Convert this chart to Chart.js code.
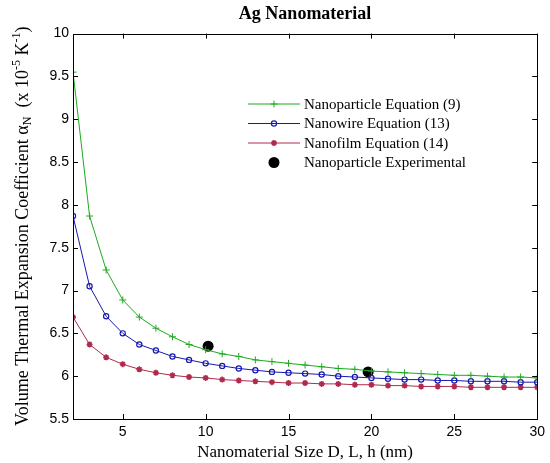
<!DOCTYPE html>
<html>
<head>
<meta charset="utf-8">
<script src="https://cdn.jsdelivr.net/npm/chart.js@4.4.1/dist/chart.umd.min.js"></script>
<style>
  html, body { margin: 0; padding: 0; background: #fff; }
  #wrap { width: 550px; height: 463px; }
</style>
</head>
<body>
<div id="wrap"><canvas id="agChart"></canvas></div>
<script>
// sizes D, L, h (nm)
var sizes = [2, 3, 4, 5, 6, 7, 8, 9, 10, 11, 12, 13, 14, 15, 16,
    17, 18, 19, 20, 21, 22, 23, 24, 25, 26, 27, 28, 29, 30];

var particleEq = [9.55, 7.87, 7.24, 6.89, 6.69, 6.56, 6.46, 6.37, 6.31, 6.26,
    6.23, 6.19, 6.17, 6.15, 6.13, 6.11, 6.09, 6.08, 6.06, 6.05,
    6.04, 6.03, 6.02, 6.01, 6.01, 6.00, 5.99, 5.99, 5.98];
var wireEq = [7.87, 7.05, 6.70, 6.50, 6.37, 6.30, 6.23, 6.19, 6.15, 6.12,
    6.09, 6.07, 6.05, 6.04, 6.03, 6.02, 6.00, 5.99, 5.98, 5.97,
    5.96, 5.96, 5.95, 5.95, 5.94, 5.94, 5.94, 5.93, 5.93];
var filmEq = [6.69, 6.37, 6.22, 6.14, 6.08, 6.04, 6.01, 5.99, 5.98, 5.96,
    5.95, 5.94, 5.93, 5.92, 5.92, 5.91, 5.91, 5.90, 5.90, 5.89,
    5.89, 5.88, 5.88, 5.88, 5.87, 5.87, 5.87, 5.87, 5.87];

var expSizes = [10.15, 19.8];
var expValues = [6.35, 6.05];

var xTicks = [5, 10, 15, 20, 25, 30];
var yTicks = [5.5, 6, 6.5, 7, 7.5, 8, 8.5, 9, 9.5, 10];

var seriesNames = ['Nanoparticle Equation (9)', 'Nanowire Equation (13)',
    'Nanofilm Equation (14)', 'Nanoparticle Experimental'];

function pairs(xs, ys) {
    return xs.map(function (x, i) { return { x: x, y: ys[i] }; });
}

var serif = "'Liberation Serif', 'Times New Roman', serif";
var sans = "'Liberation Sans', Arial, sans-serif";

// inward ticks + box round the axes, like matlab
var boxTicks = {
    id: 'boxTicks',
    afterDraw: function (c) {
        var a = c.chartArea, ctx = c.ctx, t = 5;
        var xs = c.scales.x, ys = c.scales.y;
        ctx.save();
        ctx.strokeStyle = '#000';
        ctx.lineWidth = 1;
        ctx.strokeRect(Math.round(a.left) + 0.5, Math.round(a.top) + 0.5,
            Math.round(a.right - a.left), Math.round(a.bottom - a.top));
        ctx.beginPath();
        xTicks.forEach(function (v) {
            var px = Math.round(xs.getPixelForValue(v)) + 0.5;
            ctx.moveTo(px, a.bottom); ctx.lineTo(px, a.bottom - t);
            ctx.moveTo(px, a.top); ctx.lineTo(px, a.top + t);
        });
        yTicks.forEach(function (v) {
            var py = Math.round(ys.getPixelForValue(v)) + 0.5;
            ctx.moveTo(a.left, py); ctx.lineTo(a.left + t, py);
            ctx.moveTo(a.right, py); ctx.lineTo(a.right - t, py);
        });
        ctx.stroke();
        ctx.restore();
    }
};

// y title with subscript / superscripts
var yTitle = {
    id: 'yTitle',
    afterDraw: function (c) {
        var ctx = c.ctx, a = c.chartArea;
        var parts = [
            ['Volume Thermal Expansion Coefficient \u03b1', 0],
            ['N', 1],
            ['  (x 10', 0],
            ['-5', -1],
            [' K', 0],
            ['-1', -1],
            [')', 0]
        ];
        var big = '18px ' + serif, small = '12px ' + serif;
        ctx.save();
        var total = 0;
        parts.forEach(function (p) {
            ctx.font = p[1] === 0 ? big : small;
            p.push(ctx.measureText(p[0]).width);
            total += p[2];
        });
        ctx.translate(22, (a.top + a.bottom) / 2);
        ctx.rotate(-Math.PI / 2);
        ctx.fillStyle = '#000';
        ctx.textBaseline = 'alphabetic';
        var x = -total / 2;
        parts.forEach(function (p) {
            ctx.font = p[1] === 0 ? big : small;
            var dy = p[1] === 1 ? 3 : (p[1] === -1 ? -8 : 0);
            ctx.fillText(p[0], x, 6 + dy);
            x += p[2];
        });
        ctx.restore();
    }
};

// legend inside the axes, no box
var innerLegend = {
    id: 'innerLegend',
    afterDraw: function (c) {
        var ctx = c.ctx;
        var x0 = 248, x1 = 300, tx = 304, y0 = 104, dy = 19.5;
        ctx.save();
        ctx.font = '15px ' + serif;
        ctx.textBaseline = 'middle';
        c.data.datasets.forEach(function (ds, i) {
            var y = y0 + i * dy;
            var mx = (x0 + x1) / 2;
            if (ds.showLine !== false) {
                ctx.strokeStyle = ds.borderColor;
                ctx.lineWidth = 1;
                ctx.beginPath();
                ctx.moveTo(x0, y); ctx.lineTo(x1, y);
                ctx.stroke();
            }
            ctx.strokeStyle = ds.pointBorderColor;
            ctx.fillStyle = ds.pointBackgroundColor;
            ctx.lineWidth = ds.pointBorderWidth;
            Chart.helpers.drawPoint(ctx, {
                pointStyle: ds.pointStyle, radius: ds.pointRadius,
                borderWidth: ds.pointBorderWidth, rotation: 0
            }, mx, y);
            ctx.fillStyle = '#000';
            ctx.fillText(ds.label, tx, y + 1);
        });
        ctx.restore();
    }
};

var green = '#1faa1f', blue = '#1818b0', red = '#b02a4c';

new Chart(document.getElementById('agChart').getContext('2d'), {
    type: 'line',
    data: {
        datasets: [
            {
                label: seriesNames[0],
                data: pairs(sizes, particleEq),
                borderColor: green, borderWidth: 1,
                pointStyle: 'cross', pointRadius: 3.5, pointBorderWidth: 1,
                pointBorderColor: green, pointBackgroundColor: green
            },
            {
                label: seriesNames[1],
                data: pairs(sizes, wireEq),
                borderColor: blue, borderWidth: 1,
                pointStyle: 'circle', pointRadius: 2.6, pointBorderWidth: 1.2,
                pointBorderColor: blue, pointBackgroundColor: 'rgba(255,255,255,0)'
            },
            {
                label: seriesNames[2],
                data: pairs(sizes, filmEq),
                borderColor: red, borderWidth: 1,
                pointStyle: 'star', pointRadius: 3, pointBorderWidth: 1.6,
                pointBorderColor: red, pointBackgroundColor: red
            },
            {
                label: seriesNames[3],
                data: pairs(expSizes, expValues),
                showLine: false,
                borderColor: '#000',
                pointStyle: 'circle', pointRadius: 5.5, pointBorderWidth: 0,
                pointBorderColor: '#000', pointBackgroundColor: '#000'
            }
        ]
    },
    options: {
        responsive: true,
        maintainAspectRatio: false,
        animation: false,
        events: [],
        layout: { padding: { left: 33, right: 11, top: 2, bottom: 0 } },
        elements: { line: { tension: 0 } },
        plugins: {
            legend: { display: false },
            tooltip: { enabled: false },
            title: {
                display: true,
                text: 'Ag Nanomaterial',
                fullSize: false,
                color: '#000',
                font: { family: serif, size: 18, weight: 'bold' },
                padding: { top: 2, bottom: 8 }
            }
        },
        scales: {
            x: {
                type: 'linear',
                min: 2, max: 30,
                afterBuildTicks: function (s) {
                    s.ticks = xTicks.map(function (v) { return { value: v }; });
                },
                afterFit: function (s) { s.height = 44; },
                grid: { display: false, drawTicks: false },
                border: { display: false },
                ticks: { color: '#000', font: { family: sans, size: 14 }, padding: 5, maxRotation: 0 },
                title: {
                    display: true,
                    text: 'Nanomaterial Size D, L, h (nm)',
                    color: '#000',
                    font: { family: serif, size: 17 },
                    padding: { top: 1, bottom: 0 }
                }
            },
            y: {
                min: 5.5, max: 10,
                afterBuildTicks: function (s) {
                    s.ticks = yTicks.map(function (v) { return { value: v }; });
                },
                afterFit: function (s) { s.width = 40; },
                grid: { display: false, drawTicks: false },
                border: { display: false },
                ticks: {
                    color: '#000', font: { family: sans, size: 14 }, padding: 4,
                    callback: function (v) { return String(v); }
                }
            }
        }
    },
    plugins: [boxTicks, yTitle, innerLegend]
});
</script>
</body>
</html>
